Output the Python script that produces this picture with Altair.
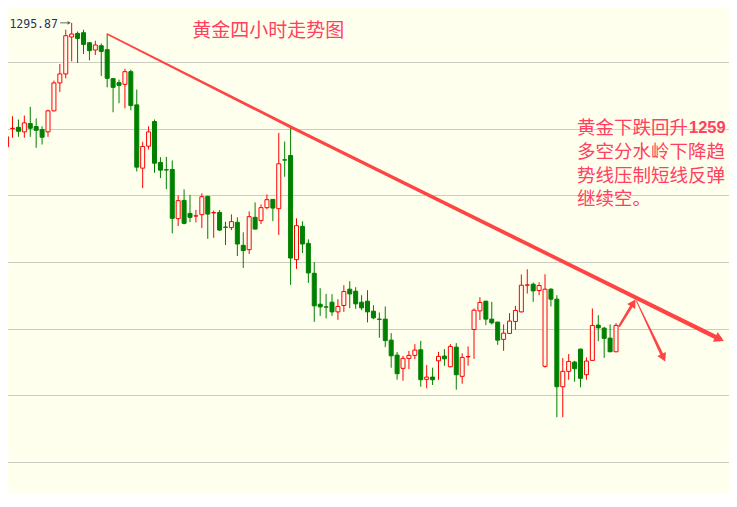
import altair as alt
import pandas as pd

# ---------------- data ----------------
open_ = [
    1277.28, 1280.02, 1280.21, 1279.52, 1280.77, 1280.32, 1279.87, 1279.52, 1282.67, 1286.86,
    1288.21, 1293.75, 1294.29, 1294.39, 1292.89, 1291.80, 1292.44, 1291.84, 1287.50, 1286.90,
    1286.65, 1288.55, 1283.57, 1274.08, 1277.37, 1281.07, 1274.93, 1273.84, 1273.88, 1266.50,
    1269.24, 1267.29, 1266.89, 1267.10, 1269.84, 1267.37, 1267.44, 1265.24, 1265.15, 1265.95,
    1262.50, 1261.86, 1266.70, 1266.20, 1268.15, 1269.39, 1268.00, 1275.33, 1275.98, 1260.36,
    1265.35, 1262.80, 1258.31, 1253.67, 1253.27, 1253.97, 1252.52, 1253.48, 1255.92, 1255.62,
    1253.97, 1254.12, 1252.62, 1251.43, 1251.43, 1248.28, 1246.04, 1244.05, 1245.54, 1245.99,
    1246.83, 1242.40, 1242.74, 1245.18, 1245.89, 1244.29, 1247.23, 1242.85, 1245.78, 1249.88,
    1252.67, 1254.12, 1251.43, 1250.98, 1248.39, 1249.29, 1251.08, 1252.52, 1256.52, 1256.67,
    1255.72, 1244.35, 1255.92, 1254.42, 1241.29, 1243.60, 1244.99, 1246.93, 1243.09, 1245.24,
    1250.53, 1250.08, 1248.58, 1246.53,
]
close = [
    1278.78, 1280.06, 1279.61, 1280.87, 1280.06, 1279.76, 1278.72, 1282.67, 1286.86, 1288.21,
    1293.94, 1294.20, 1293.54, 1292.64, 1291.70, 1292.55, 1291.59, 1287.55, 1286.20, 1286.50,
    1288.55, 1283.46, 1274.23, 1277.32, 1279.52, 1274.82, 1273.78, 1273.80, 1266.55, 1269.20,
    1265.80, 1266.70, 1266.93, 1269.79, 1267.19, 1267.41, 1264.79, 1265.20, 1266.05, 1262.70,
    1261.71, 1266.80, 1264.94, 1268.15, 1269.35, 1268.09, 1274.73, 1275.29, 1260.60, 1265.45,
    1262.70, 1258.36, 1253.42, 1253.27, 1253.23, 1252.52, 1253.33, 1255.57, 1255.21, 1253.72,
    1253.12, 1252.52, 1251.62, 1251.39, 1248.21, 1245.93, 1243.24, 1245.56, 1245.99, 1246.79,
    1242.34, 1242.74, 1242.34, 1245.84, 1245.48, 1247.34, 1243.09, 1245.69, 1245.82, 1252.77,
    1253.93, 1251.43, 1250.87, 1248.28, 1249.33, 1251.13, 1252.73, 1256.52, 1256.56, 1255.66,
    1256.47, 1255.92, 1254.42, 1241.29, 1243.60, 1245.09, 1243.99, 1242.55, 1245.14, 1250.48,
    1250.12, 1248.54, 1246.53, 1250.48,
]
high = [
    1279.61, 1281.86, 1281.37, 1281.96, 1283.27, 1281.52, 1280.36, 1282.86, 1287.20, 1289.70,
    1294.84, 1295.87, 1294.58, 1294.84, 1292.95, 1293.19, 1292.79, 1294.20, 1287.61, 1287.35,
    1289.00, 1288.85, 1285.86, 1278.03, 1280.36, 1281.37, 1275.72, 1275.78, 1275.23, 1269.99,
    1270.89, 1270.06, 1267.82, 1270.29, 1269.95, 1267.74, 1267.79, 1266.05, 1267.14, 1266.70,
    1264.45, 1267.59, 1268.94, 1268.64, 1270.14, 1269.45, 1279.37, 1278.07, 1280.27, 1266.55,
    1266.10, 1263.40, 1260.00, 1256.07, 1255.21, 1255.17, 1254.42, 1256.52, 1257.11, 1256.22,
    1255.02, 1255.77, 1253.52, 1252.43, 1253.33, 1249.33, 1246.49, 1245.93, 1246.68, 1247.68,
    1248.18, 1244.54, 1244.14, 1246.53, 1246.93, 1247.68, 1247.83, 1246.29, 1247.34, 1253.03,
    1254.72, 1254.20, 1254.02, 1251.05, 1250.63, 1252.32, 1253.42, 1258.12, 1258.91, 1256.92,
    1256.96, 1258.16, 1256.07, 1255.02, 1245.59, 1246.19, 1245.18, 1247.00, 1245.69, 1253.03,
    1252.02, 1250.27, 1250.63, 1250.83,
]
low = [
    1276.47, 1278.63, 1278.78, 1278.63, 1278.78, 1277.13, 1277.62, 1278.78, 1282.60, 1285.51,
    1287.55, 1290.09, 1289.85, 1291.20, 1290.24, 1291.05, 1287.91, 1286.20, 1282.46, 1283.81,
    1283.06, 1282.76, 1273.58, 1271.08, 1276.87, 1273.39, 1272.58, 1270.93, 1264.30, 1265.39,
    1265.65, 1265.99, 1265.95, 1265.09, 1263.48, 1263.63, 1264.64, 1262.55, 1264.79, 1260.90,
    1259.11, 1261.20, 1264.90, 1265.69, 1267.89, 1266.14, 1264.05, 1272.79, 1256.56, 1258.96,
    1261.35, 1256.86, 1251.02, 1251.92, 1251.53, 1251.92, 1251.32, 1252.52, 1253.07, 1252.97,
    1252.77, 1250.93, 1251.43, 1248.63, 1247.23, 1244.14, 1242.34, 1242.19, 1243.94, 1245.44,
    1241.29, 1241.05, 1241.55, 1242.34, 1244.44, 1244.20, 1240.84, 1241.74, 1244.44, 1245.48,
    1251.28, 1250.53, 1250.63, 1247.58, 1246.68, 1249.23, 1249.82, 1252.43, 1255.27, 1254.02,
    1255.02, 1244.14, 1253.33, 1236.71, 1236.71, 1242.34, 1242.04, 1241.20, 1242.34, 1245.20,
    1248.13, 1245.63, 1246.50, 1246.50,
]
grid_values = [1230, 1240, 1250, 1260, 1270, 1280, 1290]

# trend line and the two short arrows (candle index, price)
trend_seg = ["main", "main", "main", "a1", "a1", "a2", "a2"]
trend_i = [17, 48, 120.5, 103.57, 105.93, 106.45, 111.01]
trend_p = [1294.20, 1280.27, 1248.45, 1250.42, 1253.85, 1254.17, 1245.64]

title_text = "黄金四小时走势图"
note_first = "黄金下跌回升"
note_num = "1259"
note_rest = ["多空分水岭下降趋", "势线压制短线反弹", "继续空。"]

# ---------------- styles ----------------
BG = "#FFFFEE"
RED = "#FF0000"
GREEN = "#008000"
LINE = "#FF4444"
TXT = "#FF4060"
NAVY = "#1C3460"
CJK = "Noto Sans CJK SC"
trail_width = [1.6, 3.0, 4.2, 2.2, 3.0, 1.0, 3.2]
W, H = 721, 486

n = len(open_)
df = pd.DataFrame({"i": list(range(n)), "o": open_, "h": high, "l": low, "c": close})
df["dir"] = ["up" if c >= o else "down" for o, c in zip(open_, close)]

X0 = 1.08333
xs = alt.Scale(domain=[X0, X0 + W / 6], nice=False, zero=False)
ys = alt.Scale(domain=[1225.2, 1298.1], nice=False, zero=False)
yaxis = alt.Axis(values=grid_values, grid=True, gridDash=[1, 1], gridColor="#999999",
                 gridWidth=1, labels=False, ticks=False, domain=False, title=None)

stroke_dir = alt.Stroke("dir:N", scale=alt.Scale(domain=["up", "down"], range=[RED, GREEN]),
                        legend=None)

wicks = alt.Chart(df).mark_rule(strokeWidth=1).encode(
    x=alt.X("i:Q", scale=xs, axis=None),
    y=alt.Y("l:Q", scale=ys, axis=yaxis),
    y2="h:Q",
    stroke=stroke_dir,
)

bodies = alt.Chart(df).mark_bar(width=4, strokeWidth=1).encode(
    x=alt.X("i:Q", scale=xs, axis=None),
    y=alt.Y("o:Q", scale=ys, axis=yaxis),
    y2="c:Q",
    stroke=stroke_dir,
    fill=alt.Fill("dir:N", scale=alt.Scale(domain=["up", "down"], range=[BG, GREEN]), legend=None),
)

tdf = pd.DataFrame({"seg": trend_seg, "i": trend_i, "p": trend_p, "w": trail_width})
trail = alt.Chart(tdf).mark_trail(color=LINE, opacity=1).encode(
    x=alt.X("i:Q", scale=xs, axis=None),
    y=alt.Y("p:Q", scale=ys, axis=yaxis),
    size=alt.Size("w:Q", scale=None, legend=None),
    detail="seg:N",
)

# arrow heads at the ends of the three segments
ends = tdf.groupby("seg").tail(1).reset_index(drop=True)
head_style = {"main": (116.2, 120), "a1": (31.9, 90), "a2": (154.3, 90)}
heads = []
for _, r in ends.iterrows():
    ang, sz = head_style[r["seg"]]
    heads.append(
        alt.Chart(pd.DataFrame({"i": [r["i"]], "p": [r["p"]]}))
        .mark_point(shape="triangle-up", filled=True, size=sz, angle=ang, color=LINE,
                    opacity=1, strokeWidth=0)
        .encode(x=alt.X("i:Q", scale=xs, axis=None), y=alt.Y("p:Q", scale=ys, axis=yaxis))
    )

# peak label
peak = max(high)
peak_i = high.index(peak)
pdf = pd.DataFrame({"i": [peak_i], "p": [peak], "lab": [f"{peak:.2f}"]})
peak_lab = alt.Chart(pdf).mark_text(align="right", baseline="alphabetic", dx=-13.8, dy=5.2,
                                    font="DejaVu Sans Mono", fontSize=11.5, color=NAVY).encode(
    x=alt.X("i:Q", scale=xs, axis=None), y=alt.Y("p:Q", scale=ys, axis=yaxis), text="lab:N")
peak_arrow = alt.Chart(pdf).mark_rule(xOffset=-11.5, x2Offset=-2, color="#666666",
                                      strokeWidth=1).encode(
    x=alt.X("i:Q", scale=xs, axis=None), x2="i:Q", y=alt.Y("p:Q", scale=ys, axis=yaxis))
peak_head = alt.Chart(pdf).mark_point(shape="triangle-up", filled=True, size=14, angle=90,
                                      color="#666666", opacity=1, strokeWidth=0, xOffset=-2.5).encode(
    x=alt.X("i:Q", scale=xs, axis=None), y=alt.Y("p:Q", scale=ys, axis=yaxis))

one = pd.DataFrame({"k": [0]})


def txt(s, x, y, size, color, font, weight="normal", align="left", baseline="middle",
        line_height=None):
    kw = dict(fontSize=size, color=color, font=font, fontWeight=weight, align=align,
              baseline=baseline)
    if line_height is not None:
        kw["lineHeight"] = line_height
    return alt.Chart(one).mark_text(**kw).encode(
        x=alt.value(x), y=alt.value(y), text=alt.value(s))


NX = 569
FS = 18.5
texts = [
    txt(title_text, 260.3, 22.7, 19, TXT, CJK, align="center"),
    txt(note_first, NX, 120.2, FS, TXT, CJK),
    txt(note_num, NX + 6 * FS + 1, 125.3, 16.5, TXT, "Liberation Sans", weight="bold",
        baseline="alphabetic"),
    txt(note_rest, NX, 150.3, FS, TXT, CJK, baseline="alphabetic", line_height=23.5),
]

chart = alt.layer(wicks, bodies, trail, *heads, peak_arrow, peak_head, peak_lab, *texts).properties(
    width=W, height=H, background=BG, padding=0, autosize="none"
).configure_view(stroke=None)

chart.save("out.html", embed_options={"renderer": "svg", "actions": False})
